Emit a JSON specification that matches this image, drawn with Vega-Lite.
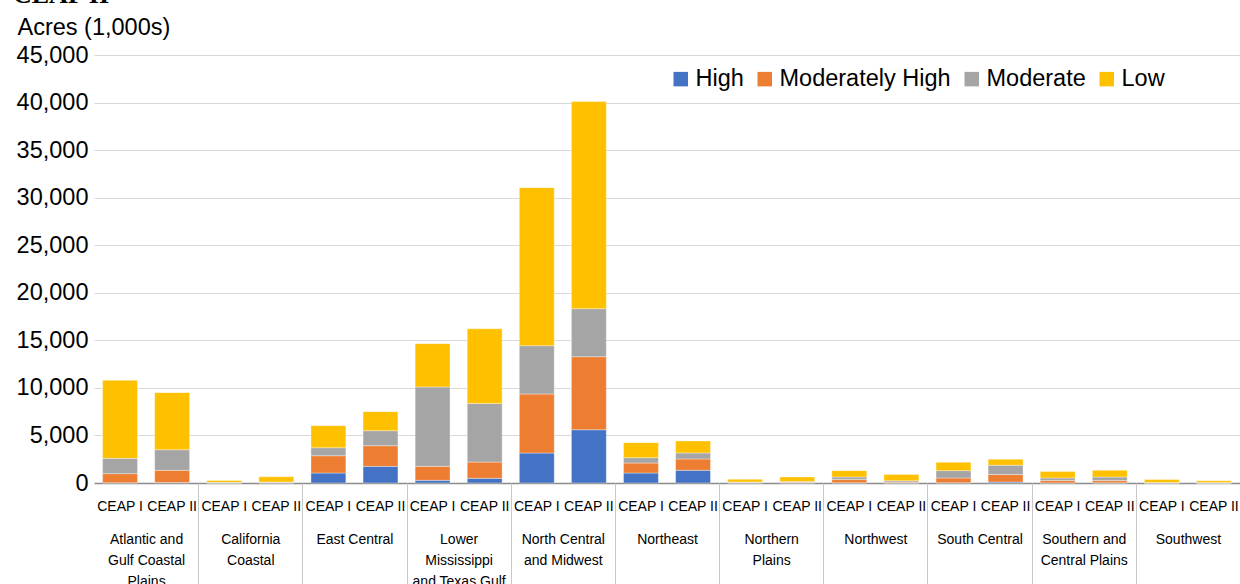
{
  "$schema": "https://vega.github.io/schema/vega-lite/v6.json",
  "autosize": {"type": "none"},
  "width": 1146,
  "height": 428,
  "padding": {"left": 94, "top": 55, "right": 0, "bottom": 101},
  "background": "white",
  "title": {"text": "CEAP II", "anchor": "start", "frame": "group", "font": "Liberation Serif", "fontSize": 26, "fontWeight": "bold", "color": "#000", "baseline": "alphabetic", "offset": -14, "dx": -81},
  "config": {"view": {"stroke": null}, "font": "Liberation Sans"},
  "data": {"values": [
    {"region": "Atlantic and Gulf Coastal Plains", "phase": "CEAP I", "level": "High", "value": 30},
    {"region": "Atlantic and Gulf Coastal Plains", "phase": "CEAP I", "level": "Moderately High", "value": 950},
    {"region": "Atlantic and Gulf Coastal Plains", "phase": "CEAP I", "level": "Moderate", "value": 1610},
    {"region": "Atlantic and Gulf Coastal Plains", "phase": "CEAP I", "level": "Low", "value": 8210},
    {"region": "Atlantic and Gulf Coastal Plains", "phase": "CEAP II", "level": "High", "value": 60},
    {"region": "Atlantic and Gulf Coastal Plains", "phase": "CEAP II", "level": "Moderately High", "value": 1270},
    {"region": "Atlantic and Gulf Coastal Plains", "phase": "CEAP II", "level": "Moderate", "value": 2170},
    {"region": "Atlantic and Gulf Coastal Plains", "phase": "CEAP II", "level": "Low", "value": 6000},
    {"region": "California Coastal", "phase": "CEAP I", "level": "High", "value": 5},
    {"region": "California Coastal", "phase": "CEAP I", "level": "Moderately High", "value": 30},
    {"region": "California Coastal", "phase": "CEAP I", "level": "Moderate", "value": 40},
    {"region": "California Coastal", "phase": "CEAP I", "level": "Low", "value": 200},
    {"region": "California Coastal", "phase": "CEAP II", "level": "High", "value": 10},
    {"region": "California Coastal", "phase": "CEAP II", "level": "Moderately High", "value": 40},
    {"region": "California Coastal", "phase": "CEAP II", "level": "Moderate", "value": 60},
    {"region": "California Coastal", "phase": "CEAP II", "level": "Low", "value": 550},
    {"region": "East Central", "phase": "CEAP I", "level": "High", "value": 1050},
    {"region": "East Central", "phase": "CEAP I", "level": "Moderately High", "value": 1820},
    {"region": "East Central", "phase": "CEAP I", "level": "Moderate", "value": 840},
    {"region": "East Central", "phase": "CEAP I", "level": "Low", "value": 2320},
    {"region": "East Central", "phase": "CEAP II", "level": "High", "value": 1750},
    {"region": "East Central", "phase": "CEAP II", "level": "Moderately High", "value": 2170},
    {"region": "East Central", "phase": "CEAP II", "level": "Moderate", "value": 1580},
    {"region": "East Central", "phase": "CEAP II", "level": "Low", "value": 2000},
    {"region": "Lower Mississippi and Texas Gulf", "phase": "CEAP I", "level": "High", "value": 280},
    {"region": "Lower Mississippi and Texas Gulf", "phase": "CEAP I", "level": "Moderately High", "value": 1470},
    {"region": "Lower Mississippi and Texas Gulf", "phase": "CEAP I", "level": "Moderate", "value": 8350},
    {"region": "Lower Mississippi and Texas Gulf", "phase": "CEAP I", "level": "Low", "value": 4550},
    {"region": "Lower Mississippi and Texas Gulf", "phase": "CEAP II", "level": "High", "value": 490},
    {"region": "Lower Mississippi and Texas Gulf", "phase": "CEAP II", "level": "Moderately High", "value": 1710},
    {"region": "Lower Mississippi and Texas Gulf", "phase": "CEAP II", "level": "Moderate", "value": 6170},
    {"region": "Lower Mississippi and Texas Gulf", "phase": "CEAP II", "level": "Low", "value": 7850},
    {"region": "North Central and Midwest", "phase": "CEAP I", "level": "High", "value": 3150},
    {"region": "North Central and Midwest", "phase": "CEAP I", "level": "Moderately High", "value": 6210},
    {"region": "North Central and Midwest", "phase": "CEAP I", "level": "Moderate", "value": 5080},
    {"region": "North Central and Midwest", "phase": "CEAP I", "level": "Low", "value": 16610},
    {"region": "North Central and Midwest", "phase": "CEAP II", "level": "High", "value": 5600},
    {"region": "North Central and Midwest", "phase": "CEAP II", "level": "Moderately High", "value": 7680},
    {"region": "North Central and Midwest", "phase": "CEAP II", "level": "Moderate", "value": 5050},
    {"region": "North Central and Midwest", "phase": "CEAP II", "level": "Low", "value": 21770},
    {"region": "Northeast", "phase": "CEAP I", "level": "High", "value": 1050},
    {"region": "Northeast", "phase": "CEAP I", "level": "Moderately High", "value": 1050},
    {"region": "Northeast", "phase": "CEAP I", "level": "Moderate", "value": 560},
    {"region": "Northeast", "phase": "CEAP I", "level": "Low", "value": 1580},
    {"region": "Northeast", "phase": "CEAP II", "level": "High", "value": 1340},
    {"region": "Northeast", "phase": "CEAP II", "level": "Moderately High", "value": 1190},
    {"region": "Northeast", "phase": "CEAP II", "level": "Moderate", "value": 630},
    {"region": "Northeast", "phase": "CEAP II", "level": "Low", "value": 1260},
    {"region": "Northern Plains", "phase": "CEAP I", "level": "High", "value": 10},
    {"region": "Northern Plains", "phase": "CEAP I", "level": "Moderately High", "value": 40},
    {"region": "Northern Plains", "phase": "CEAP I", "level": "Moderate", "value": 60},
    {"region": "Northern Plains", "phase": "CEAP I", "level": "Low", "value": 280},
    {"region": "Northern Plains", "phase": "CEAP II", "level": "High", "value": 20},
    {"region": "Northern Plains", "phase": "CEAP II", "level": "Moderately High", "value": 60},
    {"region": "Northern Plains", "phase": "CEAP II", "level": "Moderate", "value": 80},
    {"region": "Northern Plains", "phase": "CEAP II", "level": "Low", "value": 470},
    {"region": "Northwest", "phase": "CEAP I", "level": "High", "value": 20},
    {"region": "Northwest", "phase": "CEAP I", "level": "Moderately High", "value": 340},
    {"region": "Northwest", "phase": "CEAP I", "level": "Moderate", "value": 270},
    {"region": "Northwest", "phase": "CEAP I", "level": "Low", "value": 670},
    {"region": "Northwest", "phase": "CEAP II", "level": "High", "value": 10},
    {"region": "Northwest", "phase": "CEAP II", "level": "Moderately High", "value": 80},
    {"region": "Northwest", "phase": "CEAP II", "level": "Moderate", "value": 140},
    {"region": "Northwest", "phase": "CEAP II", "level": "Low", "value": 660},
    {"region": "South Central", "phase": "CEAP I", "level": "High", "value": 30},
    {"region": "South Central", "phase": "CEAP I", "level": "Moderately High", "value": 500},
    {"region": "South Central", "phase": "CEAP I", "level": "Moderate", "value": 770},
    {"region": "South Central", "phase": "CEAP I", "level": "Low", "value": 880},
    {"region": "South Central", "phase": "CEAP II", "level": "High", "value": 100},
    {"region": "South Central", "phase": "CEAP II", "level": "Moderately High", "value": 790},
    {"region": "South Central", "phase": "CEAP II", "level": "Moderate", "value": 980},
    {"region": "South Central", "phase": "CEAP II", "level": "Low", "value": 630},
    {"region": "Southern and Central Plains", "phase": "CEAP I", "level": "High", "value": 10},
    {"region": "Southern and Central Plains", "phase": "CEAP I", "level": "Moderately High", "value": 240},
    {"region": "Southern and Central Plains", "phase": "CEAP I", "level": "Moderate", "value": 280},
    {"region": "Southern and Central Plains", "phase": "CEAP I", "level": "Low", "value": 670},
    {"region": "Southern and Central Plains", "phase": "CEAP II", "level": "High", "value": 20},
    {"region": "Southern and Central Plains", "phase": "CEAP II", "level": "Moderately High", "value": 230},
    {"region": "Southern and Central Plains", "phase": "CEAP II", "level": "Moderate", "value": 380},
    {"region": "Southern and Central Plains", "phase": "CEAP II", "level": "Low", "value": 710},
    {"region": "Southwest", "phase": "CEAP I", "level": "High", "value": 5},
    {"region": "Southwest", "phase": "CEAP I", "level": "Moderately High", "value": 20},
    {"region": "Southwest", "phase": "CEAP I", "level": "Moderate", "value": 40},
    {"region": "Southwest", "phase": "CEAP I", "level": "Low", "value": 300},
    {"region": "Southwest", "phase": "CEAP II", "level": "High", "value": 3},
    {"region": "Southwest", "phase": "CEAP II", "level": "Moderately High", "value": 10},
    {"region": "Southwest", "phase": "CEAP II", "level": "Moderate", "value": 30},
    {"region": "Southwest", "phase": "CEAP II", "level": "Low", "value": 190}
  ]},
  "transform": [
    {"calculate": "datum.region + '|' + datum.phase", "as": "key"},
    {"calculate": "indexof(['High', 'Moderately High', 'Moderate', 'Low'], datum.level)", "as": "rank"}
  ],
  "layer": [
    {
      "mark": {"type": "bar", "stroke": "#ffffff", "strokeWidth": 0.6, "strokeOpacity": 0.6},
      "encoding": {
        "x": {
          "field": "key", "type": "ordinal", "sort": "ascending",
          "scale": {"paddingInner": 0.33, "paddingOuter": 0.165},
          "axis": {
            "orient": "bottom",
            "title": null, "labelAngle": 0, "ticks": false,
            "labelExpr": "split(datum.value, '|')[1]",
            "labelFont": "Liberation Sans", "labelFontSize": 14, "labelColor": "#000",
            "labelPadding": 16, "labelOverlap": false, "labelBound": false, "labelFlush": false,
            "domainColor": "#8c8c8c", "domainWidth": 1.5
          }
        },
        "y": {
          "field": "value", "type": "quantitative", "aggregate": "sum", "stack": "zero",
          "scale": {"domain": [0, 45000], "nice": false},
          "axis": {
            "values": [0, 5000, 10000, 15000, 20000, 25000, 30000, 35000, 40000, 45000],
            "format": ",d", "grid": true, "gridColor": "#d9d9d9", "gridWidth": 1.2,
            "domain": false, "ticks": false,
            "labelFont": "Liberation Sans", "labelFontSize": 23.5, "labelColor": "#000", "labelPadding": 6,
            "title": "Acres (1,000s)", "titleAngle": 0, "titleAlign": "left", "titleBaseline": "alphabetic",
            "titleX": -77, "titleY": -21, "titleFont": "Liberation Sans", "titleFontSize": 23.5,
            "titleFontWeight": "normal", "titleColor": "#000"
          }
        },
        "color": {
          "field": "level", "type": "nominal",
          "sort": ["High", "Moderately High", "Moderate", "Low"],
          "scale": {"domain": ["High", "Moderately High", "Moderate", "Low"], "range": ["#4472C4", "#ED7D31", "#A5A5A5", "#FFC000"]},
          "legend": {
            "title": null, "orient": "none", "direction": "horizontal", "legendX": 575, "legendY": 12,
            "symbolType": "square", "symbolSize": 210, "symbolStrokeWidth": 0, "symbolOpacity": 1,
            "labelFont": "Liberation Sans", "labelFontSize": 23.5, "labelColor": "#000", "labelOffset": 3,
            "columnPadding": 9, "padding": 0, "labelLimit": 400
          }
        },
        "order": {"field": "rank", "type": "quantitative", "sort": "ascending"}
      }
    },
    {
      "mark": {"type": "bar", "opacity": 0},
      "encoding": {
        "x": {
          "field": "key", "type": "ordinal", "sort": "ascending",
          "axis": {
            "orient": "bottom",
            "title": null, "labelAngle": 0, "domain": false,
            "ticks": true, "tickSize": 101, "tickColor": "#c8c8c8", "tickWidth": 1,
            "tickOffset": -26.05,
            "tickOpacity": {"condition": {"test": "indexof(datum.value, 'CEAP II') < 0 && indexof(datum.value, 'Atlantic') < 0", "value": 1}, "value": 0},
            "labelOffset": 52.09,
            "labelExpr": "indexof(datum.value, 'CEAP II') >= 0 ? '' : ({'Atlantic and Gulf Coastal Plains': ['Atlantic and', 'Gulf Coastal', 'Plains'], 'California Coastal': ['California', 'Coastal'], 'East Central': ['East Central'], 'Lower Mississippi and Texas Gulf': ['Lower', 'Mississippi', 'and Texas Gulf'], 'North Central and Midwest': ['North Central', 'and Midwest'], 'Northeast': ['Northeast'], 'Northern Plains': ['Northern', 'Plains'], 'Northwest': ['Northwest'], 'South Central': ['South Central'], 'Southern and Central Plains': ['Southern and', 'Central Plains'], 'Southwest': ['Southwest']})[split(datum.value, '|')[0]]",
            "labelFont": "Liberation Sans", "labelFontSize": 14, "labelColor": "#000",
            "labelLineHeight": 21, "labelPadding": -52, "labelBaseline": "top",
            "labelOverlap": false, "labelBound": false, "labelFlush": false
          }
        }
      }
    }
  ],
  "resolve": {"axis": {"x": "independent"}}
}
